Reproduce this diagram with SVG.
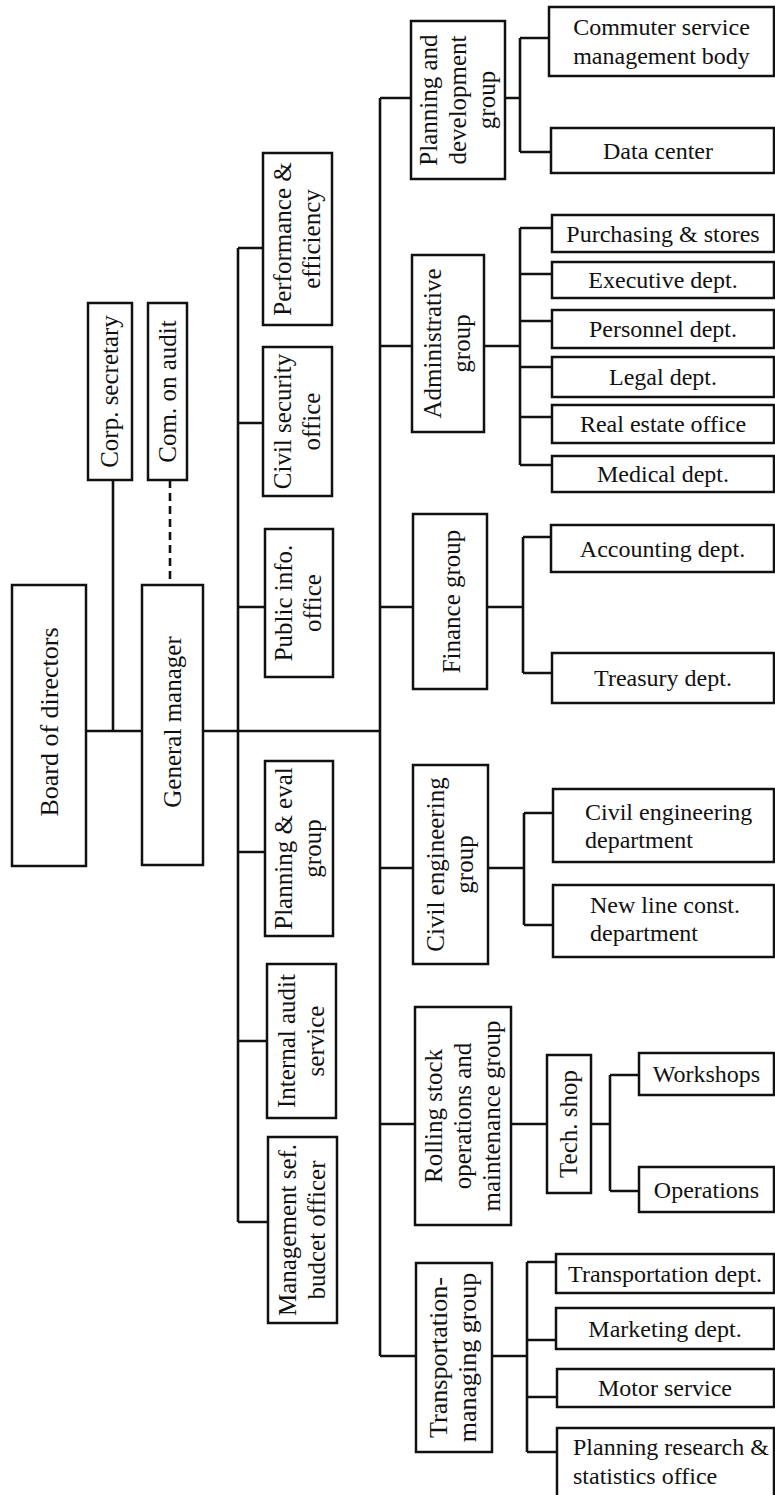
<svg xmlns="http://www.w3.org/2000/svg" width="775" height="1495" viewBox="0 0 775 1495">
<style>
.box{fill:#fff;stroke:#111;stroke-width:2.5}
.ln{fill:none;stroke:#111;stroke-width:2.6}
.dash{fill:none;stroke:#111;stroke-width:2.6;stroke-dasharray:8 5}
text{font-family:"Liberation Serif","Times New Roman",serif;font-size:24px;fill:#111}
.c{text-anchor:middle}
.r{font-size:25px}
</style>
<rect width="775" height="1495" fill="#fff"/>
<g id="connectors">
<path class="ln" d="M86,731 H142 M113,480 V731 M203,731 H380"/>
<path class="dash" d="M170,480 V585"/>
<path class="ln" d="M238,248 V1222 M238,248 H263 M238,423 H263 M238,607 H265 M238,852 H265 M238,1041 H267 M238,1222 H268"/>
<path class="ln" d="M380,98 V1356 M380,98 H411 M380,346 H412 M380,607 H413 M380,868 H413 M380,1124 H415 M380,1356 H416"/>
<path class="ln" d="M505,98 H520 M520,38 V152 M520,38 H549 M520,152 H551"/>
<path class="ln" d="M484,346 H520 M520,228 V465 M520,228 H552 M520,274 H552 M520,321 H552 M520,367 H552 M520,417 H552 M520,465 H552"/>
<path class="ln" d="M487,607 H523 M523,537 V673 M523,537 H551 M523,673 H552"/>
<path class="ln" d="M488,868 H524 M524,813 V925 M524,813 H553 M524,925 H553"/>
<path class="ln" d="M511,1124 H547 M591,1124 H610 M610,1075 V1191 M610,1075 H639 M610,1191 H639"/>
<path class="ln" d="M492,1356 H527 M527,1262 V1452 M527,1262 H556 M527,1340 H556 M527,1397 H557 M527,1452 H557"/>
</g>
<g id="corp-secretary"><rect class="box" x="88" y="303" width="44" height="177"/>
<text class="c r" transform="translate(110,391.5) rotate(-90)" y="8">Corp. secretary</text></g>
<g id="com-on-audit"><rect class="box" x="148" y="303" width="39" height="177"/>
<text class="c r" transform="translate(167.5,391.5) rotate(-90)" y="8">Com. on audit</text></g>
<g id="board-of-directors"><rect class="box" x="12" y="585" width="74" height="281"/>
<text class="c" style="font-size:26px" transform="translate(49,722) rotate(-90)" y="9">Board of directors</text></g>
<g id="general-manager"><rect class="box" x="142" y="585" width="61" height="280"/>
<text class="c r" transform="translate(172.5,722) rotate(-90)" y="8">General manager</text></g>
<g id="performance"><rect class="box" x="263" y="153" width="69" height="172"/>
<text class="c r" transform="translate(297.5,239) rotate(-90)"><tspan x="0" y="-7">Performance &amp;</tspan><tspan x="0" y="22">efficiency</tspan></text></g>
<g id="civil-security"><rect class="box" x="263" y="347" width="69" height="149"/>
<text class="c r" transform="translate(297.5,421.5) rotate(-90)"><tspan x="0" y="-7">Civil security</tspan><tspan x="0" y="22">office</tspan></text></g>
<g id="public-info"><rect class="box" x="265" y="529" width="68" height="148"/>
<text class="c r" transform="translate(299,603) rotate(-90)"><tspan x="0" y="-7">Public info.</tspan><tspan x="0" y="22">office</tspan></text></g>
<g id="planning-eval"><rect class="box" x="265" y="761" width="68" height="175"/>
<text class="c r" transform="translate(299,848.5) rotate(-90)"><tspan x="0" y="-7">Planning &amp; eval</tspan><tspan x="0" y="22">group</tspan></text></g>
<g id="internal-audit"><rect class="box" x="267" y="964" width="69" height="154"/>
<text class="c r" transform="translate(301.5,1041) rotate(-90)"><tspan x="0" y="-7">Internal audit</tspan><tspan x="0" y="22">service</tspan></text></g>
<g id="management-budget"><rect class="box" x="268" y="1137" width="69" height="186"/>
<text class="c r" transform="translate(302.5,1230) rotate(-90)"><tspan x="0" y="-7">Management sef.</tspan><tspan x="0" y="22">budcet officer</tspan></text></g>
<g id="planning-development"><rect class="box" x="411" y="21" width="94" height="158"/>
<text class="c r" transform="translate(458,100) rotate(-90)"><tspan x="0" y="-21">Planning and</tspan><tspan x="0" y="8">development</tspan><tspan x="0" y="37">group</tspan></text></g>
<g id="administrative"><rect class="box" x="412" y="255" width="72" height="177"/>
<text class="c r" transform="translate(448,343.5) rotate(-90)"><tspan x="0" y="-7">Administrative</tspan><tspan x="0" y="22">group</tspan></text></g>
<g id="finance"><rect class="box" x="413" y="514" width="74" height="175"/>
<text class="c r" transform="translate(452,601.5) rotate(-90)" y="8">Finance group</text></g>
<g id="civil-engineering"><rect class="box" x="413" y="765" width="75" height="199"/>
<text class="c r" transform="translate(450.5,864.5) rotate(-90)"><tspan x="0" y="-7">Civil engineering</tspan><tspan x="0" y="22">group</tspan></text></g>
<g id="rolling-stock"><rect class="box" x="415" y="1007" width="96" height="218"/>
<text class="c r" transform="translate(463,1116) rotate(-90)"><tspan x="0" y="-21">Rolling stock</tspan><tspan x="0" y="8">operations and</tspan><tspan x="0" y="37">maintenance group</tspan></text></g>
<g id="tech-shop"><rect class="box" x="547" y="1055" width="44" height="138"/>
<text class="c r" transform="translate(569,1124) rotate(-90)" y="8">Tech. shop</text></g>
<g id="transportation-managing"><rect class="box" x="416" y="1263" width="76" height="189"/>
<text class="c" style="font-size:26px" transform="translate(454,1357.5) rotate(-90)"><tspan x="0" y="-7">Transportation-</tspan><tspan x="0" y="22">managing group</tspan></text></g>
<g id="commuter"><rect class="box" x="549" y="7" width="225" height="69"/>
<text class="c" x="661.5"><tspan x="661.5" y="35">Commuter service</tspan><tspan x="661.5" y="64">management body</tspan></text></g>
<g id="data-center"><rect class="box" x="551" y="128" width="223" height="45"/>
<text class="c" x="658" y="158.5">Data center</text></g>
<g id="purchasing"><rect class="box" x="552" y="215" width="222" height="37"/>
<text class="c" x="663" y="241.5">Purchasing &amp; stores</text></g>
<g id="executive"><rect class="box" x="552" y="262" width="222" height="36"/>
<text class="c" x="663" y="288">Executive dept.</text></g>
<g id="personnel"><rect class="box" x="552" y="310" width="222" height="38"/>
<text class="c" x="663" y="337">Personnel dept.</text></g>
<g id="legal"><rect class="box" x="552" y="357" width="222" height="40"/>
<text class="c" x="663" y="385">Legal dept.</text></g>
<g id="real-estate"><rect class="box" x="552" y="405" width="222" height="38"/>
<text class="c" x="663" y="432">Real estate office</text></g>
<g id="medical"><rect class="box" x="552" y="456" width="222" height="36"/>
<text class="c" x="663" y="482">Medical dept.</text></g>
<g id="accounting"><rect class="box" x="551" y="525" width="223" height="47"/>
<text class="c" x="662.5" y="556.5">Accounting dept.</text></g>
<g id="treasury"><rect class="box" x="552" y="653" width="222" height="50"/>
<text class="c" x="663" y="686">Treasury dept.</text></g>
<g id="civil-eng-dept"><rect class="box" x="553" y="789" width="221" height="73"/>
<text x="585"><tspan x="585" y="820">Civil engineering</tspan><tspan x="585" y="848">department</tspan></text></g>
<g id="new-line"><rect class="box" x="553" y="885" width="221" height="72"/>
<text x="590"><tspan x="590" y="913">New line const.</tspan><tspan x="590" y="941">department</tspan></text></g>
<g id="workshops"><rect class="box" x="639" y="1053" width="135" height="42"/>
<text class="c" x="706.5" y="1082">Workshops</text></g>
<g id="operations"><rect class="box" x="639" y="1167" width="135" height="45"/>
<text class="c" x="706.5" y="1197.5">Operations</text></g>
<g id="transportation-dept"><rect class="box" x="556" y="1254" width="218" height="39"/>
<text class="c" x="665" y="1281.5">Transportation dept.</text></g>
<g id="marketing"><rect class="box" x="556" y="1308" width="218" height="41"/>
<text class="c" x="665" y="1336.5">Marketing dept.</text></g>
<g id="motor"><rect class="box" x="557" y="1369" width="217" height="38"/>
<text class="c" x="665" y="1396">Motor service</text></g>
<g id="planning-research"><rect class="box" x="557" y="1428" width="217" height="80"/>
<text x="573"><tspan x="573" y="1455">Planning research &amp;</tspan><tspan x="573" y="1484">statistics office</tspan></text></g>
</svg>
